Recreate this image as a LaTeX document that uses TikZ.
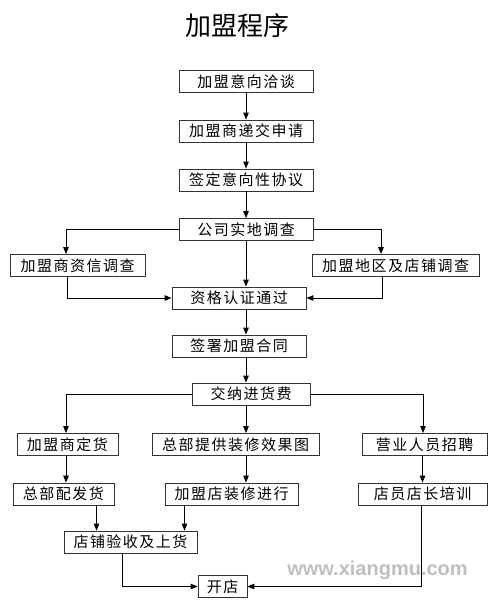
\documentclass[tikz,border=0pt]{standalone}
\usepackage{fontspec}
\usetikzlibrary{arrows.meta}
\newfontfamily\cjk[LetterSpace=10]{Noto Sans CJK SC}
\newfontfamily\titlefont{Noto Sans CJK SC}
\newfontfamily\wmfont{Liberation Sans}

\begin{document}
\begin{tikzpicture}[x=1pt, y=1pt,
    box/.style={draw=black!80, line width=0.8pt, minimum height=22pt, inner sep=0pt, font=\cjk\fontsize{15pt}{17pt}\selectfont},
    arr/.style={-{Triangle[length=7pt,width=5.5pt]}, line width=1pt}]
    \useasboundingbox (0,0) rectangle (500,-606);
    \node (title) at (237.5,-26) {\titlefont\fontsize{26pt}{30pt}\selectfont 加盟程序};
    \node [box, minimum width=134pt] (yixiang) at (246,-81.5) {加盟意向洽谈};
    \node [box, minimum width=134pt] (dijiao) at (246,-131) {加盟商递交申请};
    \node [box, minimum width=134pt] (qianding) at (246,-180) {签定意向性协议};
    \node [box, minimum width=134pt] (shidi) at (246,-229.5) {公司实地调查};
    \node [box, minimum width=135pt] (zixin) at (77.5,-265.5) {加盟商资信调查};
    \node [box, minimum width=167pt] (diqu) at (395.5,-265.5) {加盟地区及店铺调查};
    \node [box, minimum width=134pt] (zige) at (239,-298) {资格认证通过};
    \node [box, minimum width=134pt] (qianshu) at (239,-346) {签署加盟合同};
    \node [box, minimum width=118pt] (jiaona) at (251,-394) {交纳进货费};
    \node [box, minimum width=101pt] (dinghuo) at (67.5,-444.5) {加盟商定货};
    \node [box, minimum width=167pt] (xiaoguo) at (235.5,-444.5) {总部提供装修效果图};
    \node [box, minimum width=125pt] (zhaopin) at (424.5,-444.5) {营业人员招聘};
    \node [box, minimum width=101pt] (peifa) at (63.5,-494) {总部配发货};
    \node [box, minimum width=133pt] (zhuangxiu) at (231.5,-494) {加盟店装修进行};
    \node [box, minimum width=129pt] (peixun) at (422.5,-494) {店员店长培训};
    \node [box, minimum width=133pt] (yanshou) at (130.5,-542) {店铺验收及上货};
    \node [box, minimum width=49pt] (kaidian) at (222.5,-586.5) {开店};
    \node [text=black!25] (wm) at (377.5,-570) {\wmfont\bfseries\fontsize{20pt}{22pt}\selectfont www.xiangmu.com};

    \draw [arr] (yixiang) -- (dijiao);
    \draw [arr] (dijiao) -- (qianding);
    \draw [arr] (qianding) -- (shidi);
    \draw [arr] (shidi.west) -| ([xshift=-11.5pt]zixin.north);
    \draw [arr] (shidi.east) -| ([xshift=-14.5pt]diqu.north);
    \draw [arr] (shidi.south) -- (shidi.south |- zige.north);
    \draw [arr] ([xshift=-10pt]zixin.south) |- (zige.west);
    \draw [arr] ([xshift=-13.5pt]diqu.south) |- (zige.east);
    \draw [arr] (zige.south -| shidi) -- (qianshu.north -| shidi);
    \draw [arr] (qianshu.south -| shidi) -- (jiaona.north -| shidi);
    \draw [arr] (jiaona.west) -| ([xshift=-1.5pt]dinghuo.north);
    \draw [arr] (jiaona.east) -| ([xshift=-1.5pt]zhaopin.north);
    \draw [arr] (jiaona.south -| shidi) -- (xiaoguo.north -| shidi);
    \draw [arr] ([xshift=-1.5pt]dinghuo.south) -- ([xshift=-1.5pt]dinghuo.south |- peifa.north);
    \draw [arr] (xiaoguo.south -| shidi) -- (zhuangxiu.north -| shidi);
    \draw [arr] ([xshift=-2pt]zhaopin.south) -- ([xshift=-2pt]zhaopin.south |- peixun.north);
    \draw [arr] ([xshift=33pt]peifa.south) -- ([xshift=33pt]peifa.south |- yanshou.north);
    \draw [arr] ([xshift=-47pt]zhuangxiu.south) -- ([xshift=-47pt]zhuangxiu.south |- yanshou.north);
    \draw [arr] ([xshift=-8pt]yanshou.south) |- (kaidian.west);
    \draw [arr] ([xshift=-1.5pt]peixun.south) |- (kaidian.east);
\end{tikzpicture}
\end{document}
